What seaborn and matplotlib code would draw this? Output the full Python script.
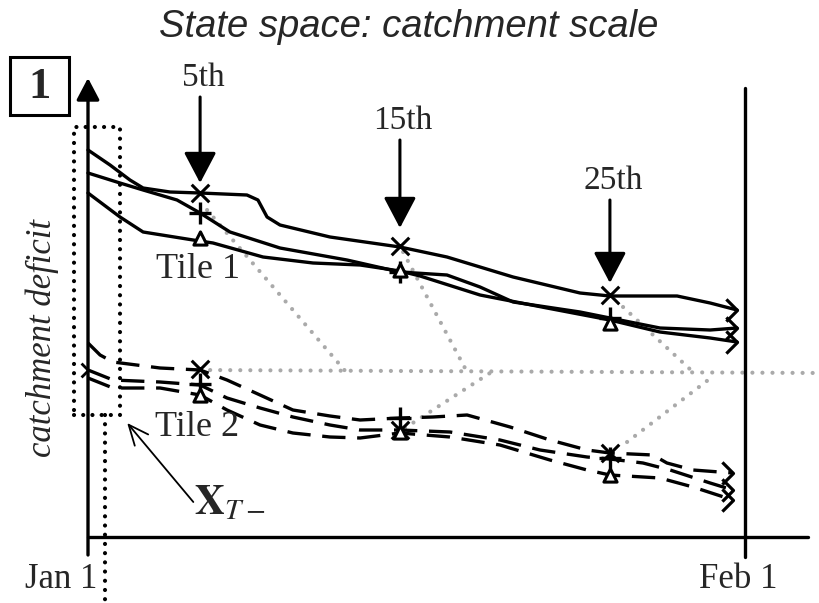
import numpy as np
import pandas as pd
import seaborn as sns
import matplotlib.pyplot as plt
from matplotlib.patches import Rectangle

sns.set_style('white')
plt.rcParams['font.family'] = ['Liberation Serif', 'DejaVu Serif']
plt.rcParams['mathtext.fontset'] = 'stix'

# ---------------- data (x in days since Jan 1, y = catchment deficit, arbitrary units)
tile1_a_day = [0, 1.04, 1.98, 2.60, 3.87, 5.29, 7.50, 8.02, 8.45, 9.06, 11.42, 14.72, 16.94, 20.06, 23.22, 24.63, 27.80, 29.36, 30.63]
tile1_a_def = [3.87, 3.72, 3.57, 3.49, 3.45, 3.44, 3.42, 3.37, 3.20, 3.12, 3.00, 2.90, 2.80, 2.60, 2.44, 2.41, 2.41, 2.34, 2.27]
tile1_b_day = [0, 1.51, 2.60, 4.20, 5.29, 6.70, 9.06, 12.22, 14.72, 16.94, 18.50, 20.06, 23.22, 24.63, 26.99, 29.36, 30.63]
tile1_b_def = [3.64, 3.54, 3.47, 3.37, 3.24, 3.05, 2.89, 2.77, 2.65, 2.62, 2.50, 2.35, 2.25, 2.19, 2.09, 2.07, 2.09]
tile1_c_day = [0, 1.51, 2.60, 4.96, 5.90, 8.26, 10.62, 12.84, 14.72, 15.67, 18.50, 21.66, 24.63, 26.99, 29.36, 30.63]
tile1_c_def = [3.44, 3.20, 3.05, 2.97, 2.94, 2.80, 2.74, 2.72, 2.66, 2.61, 2.42, 2.29, 2.17, 2.05, 1.99, 1.95]

tile2_d_day = [0, 0.57, 1.18, 3.40, 5.29, 6.56, 8.12, 9.67, 11.42, 12.84, 14.72, 16.28, 17.89, 19.92, 21.80, 23.55, 24.63, 26.66, 27.32, 28.55, 30.44]
tile2_d_def = [1.94, 1.82, 1.75, 1.69, 1.67, 1.57, 1.42, 1.27, 1.21, 1.17, 1.19, 1.20, 1.22, 1.10, 0.97, 0.87, 0.84, 0.82, 0.74, 0.67, 0.64]
tile2_e_day = [0, 1.18, 3.40, 5.29, 6.56, 8.12, 9.67, 11.42, 12.84, 14.72, 17.08, 19.44, 21.33, 23.55, 24.63, 26.19, 27.47, 29.36, 30.44]
tile2_e_def = [1.67, 1.57, 1.55, 1.52, 1.39, 1.29, 1.20, 1.12, 1.07, 1.07, 1.05, 0.97, 0.87, 0.80, 0.78, 0.74, 0.67, 0.54, 0.47]
tile2_f_day = [0, 1.18, 3.40, 5.29, 6.56, 8.12, 9.67, 11.42, 12.84, 14.72, 17.08, 19.44, 21.80, 23.55, 24.63, 26.99, 28.55, 30.44]
tile2_f_def = [1.59, 1.49, 1.49, 1.42, 1.27, 1.12, 1.04, 1.00, 0.99, 1.04, 1.00, 0.92, 0.77, 0.67, 0.62, 0.59, 0.50, 0.37]

# assimilation dates (5th, 15th, 25th)
obs_day = [5.29, 14.72, 24.63]
obs_labels = ['5th', '15th', '25th']
obs_arrow_top = [4.40, 3.97, 3.37]
obs_arrow_tip = [3.54, 3.09, 2.54]

# ensemble member states at the dates
tile1_x = [3.44, 2.91, 2.42]
tile1_plus = [3.24, 2.65, 2.19]
tile1_tri = [2.99, 2.67, 2.14]
tile2_x = [1.68, 1.07, 0.84]
tile2_plus = [1.53, 1.19, 0.79]
tile2_tri = [1.42, 1.05, 0.62]

# grey dotted state-space links: (day0, def0, day1, def1)
link_day0 = [5.29, 5.62, 14.87, 14.96, 25.25, 25.44]
link_def0 = [1.67, 3.27, 2.85, 1.09, 2.30, 0.95]
link_day1 = [34.5, 12.22, 17.89, 18.97, 28.55, 29.45]
link_def1 = [1.64, 1.64, 1.65, 1.64, 1.65, 1.60]

tick_days = [0, 31]
tick_labels = ['Jan 1', 'Feb 1']

# ---------------- figure
fig = plt.figure(figsize=(8.19, 6.03), dpi=100)
ax = fig.add_axes([0, 0, 1, 1])
ax.set_xlim(-4.153, 34.497)
ax.set_ylim(-0.66, 5.37)
ax.axis('off')

rows = []
for name, tile, d, v in [('a', 'Tile 1', tile1_a_day, tile1_a_def),
                         ('b', 'Tile 1', tile1_b_day, tile1_b_def),
                         ('c', 'Tile 1', tile1_c_day, tile1_c_def),
                         ('d', 'Tile 2', tile2_d_day, tile2_d_def),
                         ('e', 'Tile 2', tile2_e_day, tile2_e_def),
                         ('f', 'Tile 2', tile2_f_day, tile2_f_def)]:
    for i, (dd, vv) in enumerate(zip(d, v)):
        rows.append(dict(member=name, tile=tile, day=dd, deficit=vv, order=i))
df = pd.DataFrame(rows)

# grey dotted links (drawn first, underneath)
for x0, y0, x1, y1 in zip(link_day0, link_def0, link_day1, link_def1):
    ax.plot([x0, x1], [y0, y1], color='#aaaaaa', lw=3.0,
            linestyle=(0, (0.01, 2.4)), dash_capstyle='round', zorder=1)

sns.lineplot(data=df, x='day', y='deficit', units='member', style='tile',
             dashes={'Tile 1': '', 'Tile 2': (7, 3.5)}, estimator=None, sort=False,
             color='black', lw=2.4, legend=False, ax=ax, zorder=3)

# open chevron ends
chev = [(-1, 1), (0, 0), (-1, -1)]
end_day = [tile1_a_day[-1], tile1_b_day[-1], tile1_c_day[-1], tile2_d_day[-1], tile2_e_day[-1], tile2_f_day[-1]]
end_def = [tile1_a_def[-1], tile1_b_def[-1], tile1_c_def[-1], tile2_d_def[-1], tile2_e_def[-1], tile2_f_def[-1]]
ax.plot(end_day, end_def, ls='none', marker=chev, ms=16, mfc='none', mec='black', mew=2.3, zorder=4)
ax.plot([tile2_e_day[0]], [tile2_e_def[0]], ls='none',
        marker=chev, ms=10, mfc='none', mec='black', mew=2.0, zorder=4)

# ensemble markers
for vals_x, vals_p, vals_t in [(tile1_x, tile1_plus, tile1_tri), (tile2_x, tile2_plus, tile2_tri)]:
    sns.scatterplot(x=obs_day, y=vals_x, marker='x', s=160, color='black', linewidth=2.2, ax=ax, zorder=5)
    sns.scatterplot(x=obs_day, y=vals_p, marker='+', s=260, color='black', linewidth=2.4, ax=ax, zorder=5)
    sns.scatterplot(x=obs_day, y=vals_t, marker='^', s=90, facecolor='white', edgecolor='black', linewidth=2.2, ax=ax, zorder=5)

# observation arrows
for d, top, tip, lab in zip(obs_day, obs_arrow_top, obs_arrow_tip, obs_labels):
    ax.annotate('', xy=(d, tip), xytext=(d, top),
                arrowprops=dict(arrowstyle='-|>,head_width=0.5,head_length=0.95', mutation_scale=20,
                                color='black', lw=2.2, shrinkA=0, shrinkB=0), zorder=6)
    ax.text(d + 0.15, top + 0.19, lab, ha='center', va='center', fontsize=24)

# axes (y arrow, x axis, Feb 1 line)
ax.annotate('', xy=(0, 4.59), xytext=(0, -0.18),
            arrowprops=dict(arrowstyle='-|>,head_width=0.5,head_length=0.95', mutation_scale=14,
                            color='black', lw=2.4, shrinkA=0, shrinkB=0))
ax.plot([0, 34.0], [0, 0], color='black', lw=2.4)
ax.plot([31, 31], [-0.2, 4.49], color='black', lw=2.4)

# tick labels
ax.text(tick_days[0] - 1.27, -0.43, tick_labels[0], ha='center', va='center', fontsize=25)
ax.text(tick_days[1] - 0.3, -0.43, tick_labels[1], ha='center', va='center', fontsize=25)

# dotted window X_T-
ax.add_patch(Rectangle((-0.66, 1.22), 2.17, 2.88, fill=False, ec='black', lw=3.0,
                       ls=(0, (0.01, 2.2)), capstyle='round', zorder=2))
ax.plot([0.80, 0.80], [1.22, -0.66], color='black', lw=3.0, ls=(0, (0.01, 2.2)),
        dash_capstyle='round', zorder=2)
ax.annotate('', xy=(1.85, 1.14), xytext=(4.97, 0.35),
            arrowprops=dict(arrowstyle='->,head_width=0.35,head_length=0.8', mutation_scale=18,
                            color='black', lw=1.3, shrinkA=0, shrinkB=0))
ax.text(5.0, 0.33, r'$\mathbf{X}_{T-}$', ha='left', va='center', fontsize=30)

# labels
ax.text(5.19, 2.67, 'Tile 1', ha='center', va='center', fontsize=26)
ax.text(5.14, 1.10, 'Tile 2', ha='center', va='center', fontsize=26)
ax.text(-2.17, 1.99, 'catchment deficit', rotation=90, ha='center', va='center',
        fontsize=25, style='italic')
ax.text(15.15, 5.10, 'State space: catchment scale', ha='center', va='center',
        fontsize=27.5, style='italic', family=['Liberation Sans', 'DejaVu Sans'])

# panel number box
ax.add_patch(Rectangle((-3.68, 4.22), 2.78, 0.58, fill=False, ec='black', lw=2.2, zorder=6))
ax.text(-2.31, 4.50, '1', ha='center', va='center', fontsize=32, weight='bold')

fig.savefig('out.png', dpi=100)
